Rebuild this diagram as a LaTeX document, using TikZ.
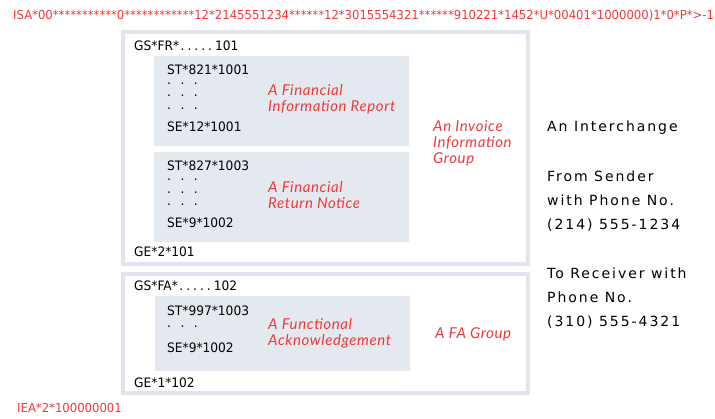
\documentclass[tikz,border=0pt]{standalone}
\usepackage{fontspec}
\setmainfont{DejaVu Sans}
\newfontfamily\segfont[FakeStretch=0.94]{DejaVu Sans}
\newfontfamily\edifont[FakeStretch=0.94]{DejaVu Sans}
\newfontfamily\sidefont[LetterSpace=14]{DejaVu Sans}
\newfontfamily\notefont[LetterSpace=4]{Lato}
\definecolor{notered}{RGB}{238,58,58}
\definecolor{boxline}{RGB}{224,229,237}
\definecolor{boxfill}{RGB}{228,232,239}
\newcommand\segdots{.\hspace{9.5pt}.\hspace{9.5pt}.}
\newcommand\gsdots{\kern1.5pt.\kern3pt.\kern3pt.\kern3pt.\kern3pt.\kern3pt}

\begin{document}
\begin{tikzpicture}[x=1pt,y=-1pt,
  grp/.style={draw=boxline,line width=4pt,fill=white},
  txset/.style={fill=boxfill},
  seg/.style={anchor=base west,inner sep=0pt,font=\segfont\fontsize{13}{16}\selectfont},
  edi/.style={anchor=base west,inner sep=0pt,text=notered,font=\edifont\fontsize{12.4}{14}\selectfont},
  note/.style={anchor=north west,inner sep=0pt,align=left,text=notered,font=\notefont\itshape\fontsize{15}{16}\selectfont},
  side/.style={anchor=north west,inner sep=0pt,align=left,font=\sidefont\fontsize{14}{24}\selectfont}]
\useasboundingbox (0,0) rectangle (715,419);
\draw [grp] (123,32) rectangle (528,264);
\draw [grp] (123,274) rectangle (528,393);
\fill [txset] (154,56) rectangle (409,146);
\fill [txset] (154,152) rectangle (409,242);
\fill [txset] (155,296) rectangle (410,371);

\node [edi] (isa) at (13,20) {ISA*00***********0************12*2145551234******12*3015554321******910221*1452*U*00401*1000000)1*0*P*>-1};
\node [edi] (iea) at (17,413) {IEA*2*100000001};

\node [seg] (gsfr) at (134,51) {GS*FR*\gsdots101};
\node [seg] (st821) at (167,75) {ST*821*1001};
\node [seg] (dota1) at (167,84.5) {\segdots};
\node [seg] (dota2) at (167,97) {\segdots};
\node [seg] (dota3) at (167,109.5) {\segdots};
\node [seg] (se12) at (167,132) {SE*12*1001};
\node [seg] (st827) at (167,171) {ST*827*1003};
\node [seg] (dotb1) at (167,181) {\segdots};
\node [seg] (dotb2) at (167,193.5) {\segdots};
\node [seg] (dotb3) at (167,206) {\segdots};
\node [seg] (se9a) at (167,228) {SE*9*1002};
\node [seg] (ge2) at (134,257) {GE*2*101};
\node [note] (report) at (268,84.5) {A Financial\\Information Report};
\node [note] (notice) at (268,181) {A Financial\\Return Notice};
\node [note] (invoice) at (433,120) {An Invoice\\Information\\Group};

\node [seg] (gsfa) at (134,290.5) {GS*FA*\gsdots102};
\node [seg] (st997) at (167,316) {ST*997*1003};
\node [seg] (dotc1) at (167,328) {\segdots};
\node [seg] (se9b) at (167,353) {SE*9*1002};
\node [seg] (ge1) at (134,388) {GE*1*102};
\node [note] (ack) at (268,318) {A Functional\\Acknowledgement};
\node [note,anchor=base west] (fagrp) at (435,339) {A FA Group};

\node [side] (inter) at (547,120.3) {An Interchange};
\node [side] (sender) at (547,170.3) {From Sender\\with Phone No.\\(214) 555-1234};
\node [side] (receiver) at (547,267.6) {To Receiver with\\Phone No.\\(310) 555-4321};
\end{tikzpicture}
\end{document}
